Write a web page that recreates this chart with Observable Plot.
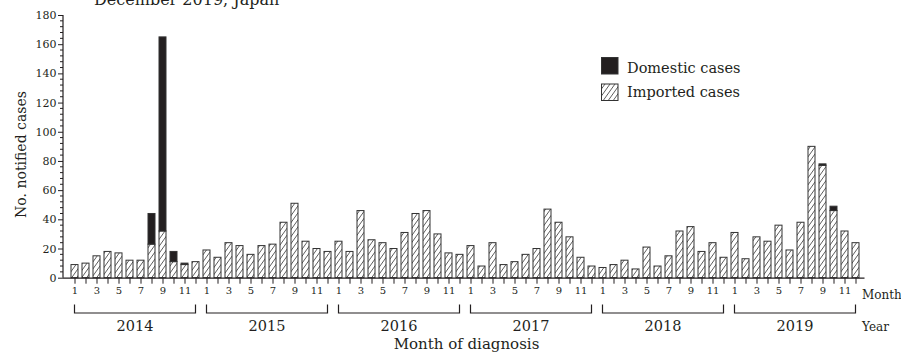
<!DOCTYPE html>
<html><head><meta charset="utf-8">
<script src="https://cdn.jsdelivr.net/npm/d3@7"></script>
<script src="https://cdn.jsdelivr.net/npm/@observablehq/plot@0.6"></script>
<style>
body{margin:0;background:#fff;}
#wrap{position:relative;width:901px;height:353px;overflow:hidden;font-family:"DejaVu Serif",serif;color:#231f20;}
#title{position:absolute;left:94px;top:-8px;font-size:16px;line-height:16px;white-space:nowrap;}
</style></head><body>
<div id="wrap"></div>
<script>
const years = [2014, 2015, 2016, 2017, 2018, 2019];
const months = [1, 2, 3, 4, 5, 6, 7, 8, 9, 10, 11, 12];
const yTicks = [0, 20, 40, 60, 80, 100, 120, 140, 160, 180];
const imported = [
  9, 10, 15, 18, 17, 12, 12, 23, 32, 11, 9, 11,
  19, 14, 24, 22, 16, 22, 23, 38, 51, 25, 20, 18,
  25, 18, 46, 26, 24, 20, 31, 44, 46, 30, 17, 16,
  22, 8, 24, 9, 11, 16, 20, 47, 38, 28, 14, 8,
  7, 9, 12, 6, 21, 8, 15, 32, 35, 18, 24, 14,
  31, 13, 28, 25, 36, 19, 38, 90, 77, 46, 32, 24
];
const domestic = [
  0, 0, 0, 0, 0, 0, 0, 21, 133, 7, 1, 0,
  0, 0, 0, 0, 0, 0, 0, 0, 0, 0, 0, 0,
  0, 0, 0, 0, 0, 0, 0, 0, 0, 0, 0, 0,
  0, 0, 0, 0, 0, 0, 0, 0, 0, 0, 0, 0,
  0, 0, 0, 0, 0, 0, 0, 0, 0, 0, 0, 0,
  0, 0, 0, 0, 0, 0, 0, 0, 1, 3, 0, 0
];
const legendLabels = ["Domestic cases", "Imported cases"];

const rows = imported.map((v, i) => ({
  i, year: years[Math.floor(i / 12)], month: months[i % 12],
  imported: v, domestic: domestic[i], total: v + domestic[i]
}));

const ink = "#231f20";
const plot = Plot.plot({
  width: 901, height: 353,
  marginLeft: 64.5, marginRight: 36.5, marginTop: 15, marginBottom: 75.3,
  style: {fontFamily: "'DejaVu Serif', serif", color: ink, background: "#fff", overflow: "visible"},
  x: {type: "band", domain: d3.range(rows.length), paddingInner: 0.4, paddingOuter: 0.2},
  y: {domain: [0, 180]},
  marks: [
    Plot.barY(rows, {x: "i", y: "imported", fill: "url(#hatch)", stroke: "#333", strokeWidth: 1}),
    Plot.barY(rows.filter(d => d.domestic > 0), {x: "i", y1: "imported", y2: "total", fill: ink, stroke: "#333", strokeWidth: 1}),
    Plot.ruleY([0], {stroke: ink, strokeWidth: 1.3, insetLeft: -1.5}),
    Plot.axisY({ticks: yTicks, tickSize: 5, fontSize: 11, label: null, tickPadding: 2, dx: -1.5, stroke: ink}),
    Plot.axisX({ticks: d3.range(rows.length), tickSize: 6, tickPadding: 3, fontSize: 10, label: null,
      tickFormat: i => (rows[i].month % 2 === 1 ? String(rows[i].month) : ""), stroke: ink})
  ]
});

document.getElementById("wrap").appendChild(plot);
const t = document.createElement("div");
t.id = "title"; t.textContent = "December 2019, Japan";
document.getElementById("wrap").appendChild(t);

const svg = d3.select(plot);
const defs = svg.insert("defs", ":first-child");
const pat = defs.append("pattern").attr("id", "hatch").attr("patternUnits", "userSpaceOnUse")
  .attr("width", 5).attr("height", 7);
pat.append("rect").attr("width", 5).attr("height", 7).attr("fill", "#fff");
pat.append("path").attr("d", "M0,7L5,0M-5,7L0,0M5,7L10,0").attr("stroke", "#333").attr("stroke-width", 0.8);

const xs = plot.scale("x"), ys = plot.scale("y");
const bw = xs.bandwidth;
const y0 = ys.apply(0), yTop = ys.apply(180);
const axisX = 63;
const g = svg.append("g").attr("fill", ink).attr("stroke", ink).attr("text-anchor", "start");
// y axis line
g.append("line").attr("x1", axisX).attr("x2", axisX).attr("y1", yTop).attr("y2", y0).attr("stroke-width", 1.2);
// minor ticks
d3.range(0, 181, 4).filter(v => v % 20 !== 0).forEach(v => {
  g.append("line").attr("x1", axisX - 3).attr("x2", axisX).attr("y1", ys.apply(v)).attr("y2", ys.apply(v)).attr("stroke-width", 1);
});
// year brackets
years.forEach((yr, k) => {
  const a = xs.apply(k * 12) + bw / 2, b = xs.apply(k * 12 + 11) + bw / 2;
  g.append("path").attr("fill", "none").attr("stroke-width", 1.2)
    .attr("d", `M${a},304.5V313H${b}V304.5`);
  g.append("text").attr("stroke", "none").attr("x", (a + b) / 2).attr("y", 330.5)
    .attr("text-anchor", "middle").attr("font-size", 14.5).text(yr);
});
g.append("text").attr("stroke", "none").attr("x", 862).attr("y", 299).attr("font-size", 12).text("Month");
g.append("text").attr("stroke", "none").attr("x", 862).attr("y", 330.5).attr("font-size", 12).text("Year");
g.append("text").attr("stroke", "none").attr("x", 466.5).attr("y", 349).attr("text-anchor", "middle").attr("font-size", 15).text("Month of diagnosis");
g.append("text").attr("stroke", "none").attr("transform", "translate(25.5,154.5) rotate(-90)")
  .attr("text-anchor", "middle").attr("font-size", 14).text("No. notified cases");
// legend
g.append("rect").attr("x", 601.5).attr("y", 57.5).attr("width", 16.5).attr("height", 16.5).attr("fill", ink).attr("stroke", "#333");
g.append("rect").attr("x", 601.5).attr("y", 84).attr("width", 16.5).attr("height", 16.5).attr("fill", "url(#hatch)").attr("stroke", "#333");
g.append("text").attr("stroke", "none").attr("x", 627).attr("y", 73).attr("font-size", 14.5).text(legendLabels[0]);
g.append("text").attr("stroke", "none").attr("x", 627).attr("y", 97).attr("font-size", 14.5).text(legendLabels[1]);
</script>
</body></html>
